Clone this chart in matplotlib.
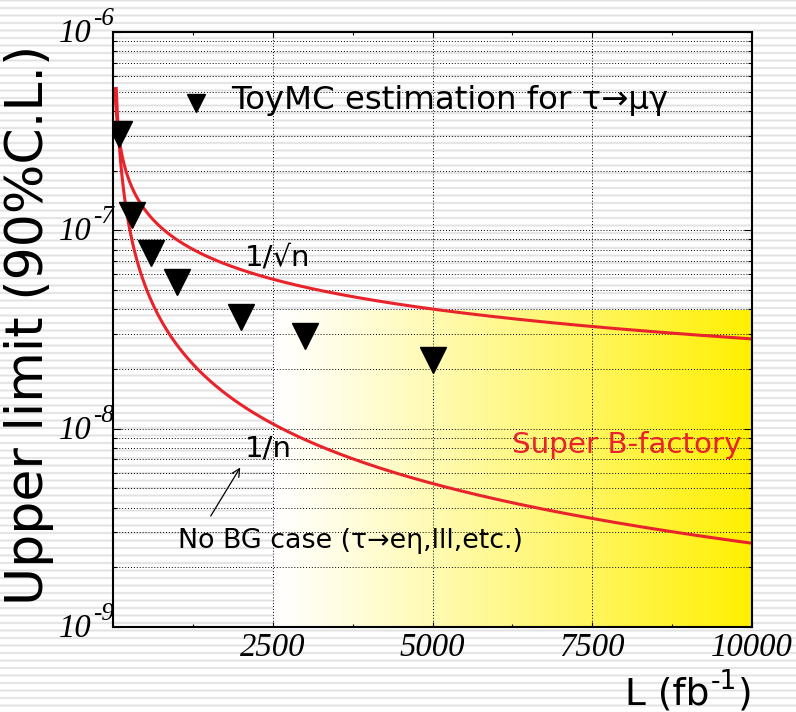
import numpy as np
import matplotlib
matplotlib.use("Agg")
import matplotlib.pyplot as plt
from matplotlib.ticker import FixedLocator, LogLocator, NullFormatter

# ---------------- data ----------------
toy_L = [87, 300, 600, 1000, 2000, 3000, 5000]                      # fb^-1
toy_UL = [3.05e-7, 1.2e-7, 7.7e-8, 5.5e-8, 3.67e-8, 2.93e-8, 2.23e-8]

norm_L = 87.0          # normalisation point of the scaling curves
norm_UL = 3.04e-7
sqrt_L_start = 30.0
inv_L_start = 51.0
L_max = 10000.0

superb_L = [2500, 10000]
superb_UL = [1e-9, 4e-8]

x_ticks = [2500, 5000, 7500, 10000]
x_tick_labels = ["2500", "5000", "7500", "10000"]
y_decades = [1e-6, 1e-7, 1e-8, 1e-9]
y_exponents = ["-6", "-7", "-8", "-9"]

RED = "#e8232b"
YELLOW = np.array([255, 240, 0]) / 255.0
SANS = ["DejaVu Sans"]
SERIF = ["Liberation Serif", "DejaVu Serif"]

W, H = 796, 712
fig = plt.figure(figsize=(W / 100, H / 100), dpi=100)

# striped background
rows = np.arange(H)
v = 255 - 30 * np.clip(np.cos(2 * np.pi * rows / 7.5), 0, 1) ** 2
stripe = np.repeat(v[:, None], W, axis=1) / 255.0
bg = fig.add_axes([0, 0, 1, 1], zorder=-10)
bg.imshow(np.dstack([stripe] * 3), aspect="auto", interpolation="nearest")
bg.axis("off")

# main axes
L0, R0, T0, B0 = 113, 752, 32, 627
ax = fig.add_axes([L0 / W, 1 - B0 / H, (R0 - L0) / W, (B0 - T0) / H])
ax.patch.set_alpha(0)
ax.set_yscale("log")

# super B-factory gradient region
t = np.linspace(0, 1, 300)
f = t ** 1.1
grad = (1 - f)[:, None] * np.array([1, 1, 1]) + f[:, None] * YELLOW
ax.imshow(grad[None, :, :], extent=[superb_L[0], superb_L[1], superb_UL[0], superb_UL[1]],
          aspect="auto", zorder=0.5, interpolation="bilinear")

# scaling curves
Ls = np.geomspace(sqrt_L_start, L_max, 400)
ax.plot(Ls, norm_UL * np.sqrt(norm_L / Ls), color=RED, lw=2.2, zorder=3)
Li = np.geomspace(inv_L_start, L_max, 400)
ax.plot(Li, norm_UL * norm_L / Li, color=RED, lw=2.2, zorder=3)

# ToyMC points
ax.plot(toy_L, toy_UL, "v", color="black", ms=18.5, zorder=4)

ax.set_xlim(0, L_max)
ax.set_ylim(1e-9, 1e-6)

ax.xaxis.set_major_locator(FixedLocator([0] + x_ticks))
ax.xaxis.set_minor_locator(FixedLocator(np.arange(1250, 10000, 2500)))
ax.yaxis.set_major_locator(LogLocator(base=10))
ax.yaxis.set_minor_locator(LogLocator(base=10, subs=np.arange(2, 10)))
ax.xaxis.set_major_formatter(NullFormatter())
ax.yaxis.set_major_formatter(NullFormatter())
ax.yaxis.set_minor_formatter(NullFormatter())
ax.tick_params(which="both", direction="in", top=True, right=True, width=0.8, color="black")
ax.tick_params(axis="y", which="major", length=6)
ax.tick_params(axis="y", which="minor", length=3)
ax.tick_params(axis="x", which="major", length=3.5)
ax.tick_params(axis="x", which="minor", length=2.5)
ax.set_axisbelow("line")
ax.grid(True, axis="y", which="both", color="black", lw=0.7, ls=(0, (1, 2)))
ax.grid(True, axis="x", which="major", color="black", lw=0.7, ls=(0, (1, 2)))
for s in ax.spines.values():
    s.set_linewidth(1.5)
    s.set_zorder(5)

# tick labels (italic serif, ROOT style)
for val, ex in zip(y_decades, y_exponents):
    ax.annotate("10", xy=(0, val), xycoords=("axes fraction", "data"),
                xytext=(-21, -10), textcoords="offset pixels", ha="right", va="baseline",
                fontsize=23.5, fontstyle="italic", family=SERIF, annotation_clip=False)
    ax.annotate(ex, xy=(0, val), xycoords=("axes fraction", "data"),
                xytext=(-20, 7), textcoords="offset pixels", ha="left", va="baseline",
                fontsize=18, fontstyle="italic", family=SERIF, annotation_clip=False)
for val, lab in zip(x_ticks, x_tick_labels):
    ax.annotate(lab, xy=(val, 0), xycoords=("data", "axes fraction"),
                xytext=(0, -29), textcoords="offset pixels", ha="center", va="baseline",
                fontsize=23.5, fontstyle="italic", family=SERIF, annotation_clip=False)

# axis titles
fig.text(29 / W, 1 - 325 / H, "Upper limit (90%C.L.)", rotation=90, ha="center", va="center",
         fontsize=37.5, family=SANS)

renderer = fig.canvas.get_renderer()
x_px = 625
pieces = [("L (fb", 27, 0), ("-1", 19, 15), (")", 27, 0)]
for txt, fs, dy in pieces:
    tt = fig.text(x_px / W, (H - 704 + dy) / H, txt, ha="left", va="baseline",
                  fontsize=fs, family=SANS)
    x_px = tt.get_window_extent(renderer=renderer).x1 + 1

# annotations
ax.plot([1299], [4.41e-7], "v", color="black", ms=13, zorder=4)
ax.text(1847, 4.07e-7, "ToyMC estimation for τ→μγ", fontsize=23.3, family=SANS, va="baseline")
ax.text(2066, 6.68e-8, "1/√n", fontsize=21, family=SANS, va="baseline")
ax.text(2066, 7.22e-9, "1/n", fontsize=21, family=SANS, va="baseline")
ax.text(6244, 7.51e-9, "Super B-factory", fontsize=21.2, family=SANS, va="baseline", color=RED)
ax.text(1022, 2.49e-9, "No BG case (τ→eη,lll,etc.)", fontsize=19.4, family=SANS, va="baseline")
ax.annotate("", xy=(2014, 6.55e-9), xytext=(1507, 3.53e-9),
            arrowprops=dict(arrowstyle="->", color="black", lw=0.9, mutation_scale=14))

fig.savefig("out.png", dpi=100)
